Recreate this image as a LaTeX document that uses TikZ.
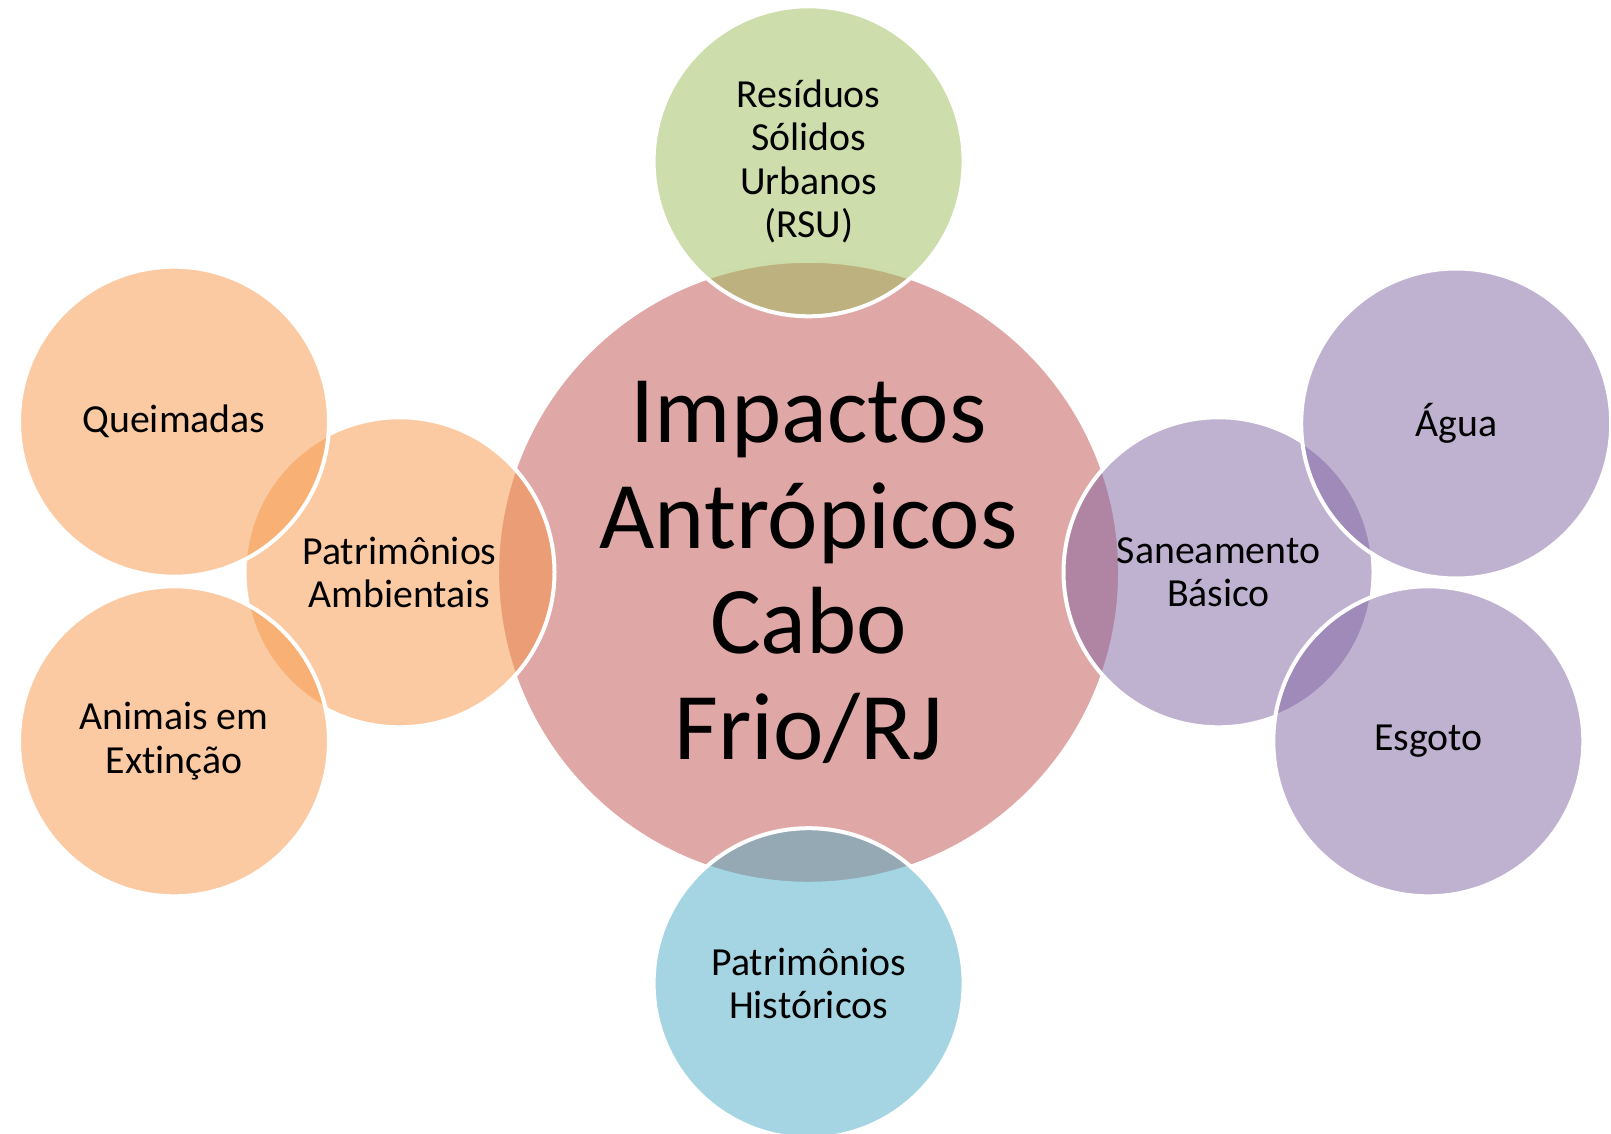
\documentclass[tikz,border=0pt]{standalone}
\usepackage{fontspec}
\setmainfont{Carlito}[Ligatures=NoCommon]
\definecolor{redacc}{HTML}{C0504D}
\definecolor{greenacc}{HTML}{9BBB59}
\definecolor{blueacc}{HTML}{4BACC6}
\definecolor{orangeacc}{HTML}{F79646}
\definecolor{purpleacc}{HTML}{8064A2}
\begin{document}
\begin{tikzpicture}[x=1pt,y=-1pt,
    bubble/.style={circle,draw=white,line width=4pt,fill opacity=0.5,text opacity=1,
      minimum size=310pt,inner sep=0pt,align=center,
      font=\fontsize{39.8}{43.5}\selectfont},
    hub/.style={bubble,minimum size=623pt,font=\fontsize{95.5}{105.5}\selectfont}]
    \useasboundingbox (0,0) rectangle (1611,1134);
    % centre
    \node[hub,fill=redacc] (impactos) at (808.6,572.3) {Impactos\\Antrópicos\\Cabo\\Frio/RJ};
    % first ring
    \node[bubble,fill=greenacc] (rsu) at (808.6,161.3) {Resíduos\\Sólidos\\Urbanos\\(RSU)};
    \node[bubble,fill=blueacc] (historicos) at (808.6,983.2) {Patrimônios\\Históricos};
    \node[bubble,fill=orangeacc] (ambientais) at (399.5,572.3) {Patrimônios\\Ambientais};
    \node[bubble,fill=purpleacc] (saneamento) at (1218.5,572.3) {Saneamento\\Básico};
    % outer ring
    \node[bubble,fill=orangeacc] (queimadas) at (174,421.7) {Queimadas};
    \node[bubble,fill=orangeacc] (animais) at (174,741.3) {Animais em\\Extinção};
    \node[bubble,fill=purpleacc] (agua) at (1456.2,423.5) {Água};
    \node[bubble,fill=purpleacc] (esgoto) at (1428.3,741.3) {Esgoto};
\end{tikzpicture}
\end{document}
